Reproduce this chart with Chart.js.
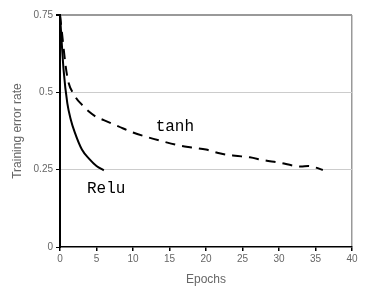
<!DOCTYPE html>
<html>
<head>
<meta charset="utf-8">
<script src="https://cdn.jsdelivr.net/npm/chart.js@4.4.0/dist/chart.umd.min.js"></script>
<style>
  html, body { margin: 0; padding: 0; background: #fff; }
  #wrap { width: 375px; height: 291px; }
</style>
</head>
<body>
<div id="wrap"><canvas id="chart" width="375" height="291"></canvas></div>
<script>
// Relu curve (solid)
const reluEpochs = [0, 0.5, 1, 1.5, 2, 3, 4, 5, 6];
const reluError = [0.75, 0.57, 0.465, 0.41, 0.372, 0.315, 0.285, 0.262, 0.248];

// tanh curve (dashed)
const tanhEpochs = [0, 1, 2, 3, 4, 5, 6, 7, 8, 10, 12, 14, 16, 18, 20, 22, 24, 26, 28, 30, 32, 33, 34, 35, 36];
const tanhError = [0.75, 0.55, 0.49, 0.46, 0.437, 0.42, 0.41, 0.4, 0.39, 0.37, 0.355, 0.342, 0.33, 0.322, 0.315, 0.302, 0.295, 0.29, 0.28, 0.273, 0.263, 0.26, 0.262, 0.257, 0.249];

const yTicks = [0, 0.25, 0.5, 0.75];

function pts(xs, ys) {
    return xs.map((x, i) => ({ x: x, y: ys[i] }));
}

// text labels next to the curves
const curveLabels = {
    id: 'curveLabels',
    afterDatasetsDraw(chart) {
        const ctx = chart.ctx;
        const xs = chart.scales.x, ys = chart.scales.y;
        ctx.save();
        ctx.fillStyle = '#000';
        ctx.font = '16px "Liberation Mono"';
        ctx.textBaseline = 'alphabetic';
        ctx.fillText('tanh', xs.getPixelForValue(13.1), ys.getPixelForValue(0.376));
        ctx.fillText('Relu', xs.getPixelForValue(3.7), ys.getPixelForValue(0.173));
        ctx.restore();
    }
};

new Chart(document.getElementById('chart'), {
    type: 'line',
    data: {
        datasets: [
            {
                label: 'Relu',
                data: pts(reluEpochs, reluError),
                borderColor: '#000',
                borderWidth: 2,
                pointRadius: 0,
                cubicInterpolationMode: 'monotone'
            },
            {
                label: 'tanh',
                data: pts(tanhEpochs, tanhError),
                borderColor: '#000',
                borderWidth: 2,
                borderDash: [10, 7],
                pointRadius: 0,
                cubicInterpolationMode: 'monotone'
            }
        ]
    },
    options: {
        responsive: false,
        animation: false,
        layout: { padding: { top: 15, right: 23, left: 0, bottom: 0 } },
        plugins: { legend: { display: false }, tooltip: { enabled: false } },
        scales: {
            x: {
                type: 'linear',
                min: 0, max: 40,
                ticks: { stepSize: 5, color: '#666', font: { family: 'Liberation Sans', size: 10 }, padding: 2, maxRotation: 0 },
                grid: {
                    color: c => c.tick.value === 40 ? '#999' : 'rgba(0,0,0,0)',
                    tickColor: '#000',
                    tickLength: 4,
                    lineWidth: 1.5
                },
                border: { color: '#000', width: 1.5 },
                title: { display: true, text: 'Epochs', color: '#666', font: { family: 'Liberation Sans', size: 12 }, padding: { top: 4 } },
                afterFit: s => { s.height = 44; }
            },
            y: {
                type: 'linear',
                min: 0, max: 0.75,
                afterBuildTicks: s => { s.ticks = yTicks.map(v => ({ value: v })); },
                ticks: { color: '#666', font: { family: 'Liberation Sans', size: 10 }, padding: 3, callback: v => String(v) },
                grid: {
                    color: c => c.tick.value === 0.75 ? '#999' : (c.tick.value === 0 ? 'rgba(0,0,0,0)' : '#ccc'),
                    lineWidth: c => c.tick.value === 0.75 ? 2 : 1,
                    tickColor: '#000',
                    tickLength: 4
                },
                border: { color: '#000', width: 2 },
                title: { display: true, text: 'Training error rate', color: '#666', font: { family: 'Liberation Sans', size: 12 }, padding: { top: 10, bottom: 2 } },
                afterFit: s => { s.width = 60; }
            }
        }
    },
    plugins: [curveLabels]
});
</script>
</body>
</html>
